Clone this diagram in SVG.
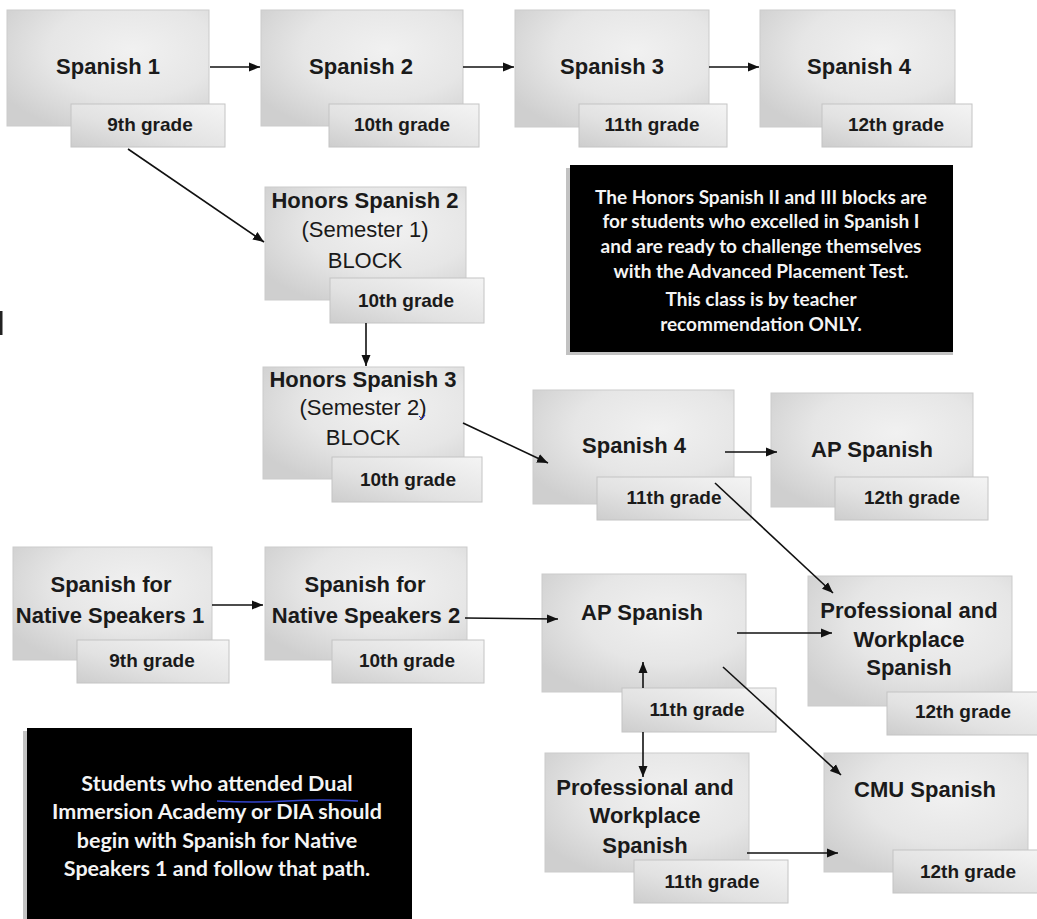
<svg xmlns="http://www.w3.org/2000/svg" width="1037" height="919" viewBox="0 0 1037 919">
<defs>
<radialGradient id="gBox" cx="0.62" cy="0.35" r="0.75">
<stop offset="0" stop-color="#f1f1f1"/>
<stop offset="0.55" stop-color="#e6e6e6"/>
<stop offset="1" stop-color="#cfcfcf"/>
</radialGradient>
<linearGradient id="gTag" x1="1" y1="0" x2="0" y2="1">
<stop offset="0" stop-color="#f4f4f4"/>
<stop offset="0.6" stop-color="#e2e2e2"/>
<stop offset="1" stop-color="#cdcdcd"/>
</linearGradient>
<marker id="arr" markerUnits="userSpaceOnUse" markerWidth="12" markerHeight="10" refX="11" refY="5" orient="auto">
<path d="M0,0.5 L11,5 L0,9.5 z" fill="#111"/>
</marker>
</defs>
<style>
.box{fill:url(#gBox);stroke:#cbcbcb;stroke-width:1}
.tag{fill:url(#gTag);stroke:#c4c4c4;stroke-width:1}
.t{font-family:"Liberation Sans",Arial,sans-serif;font-weight:bold;font-size:22px;fill:#1a1a1a;text-anchor:middle}
.r{font-family:"Liberation Sans",Arial,sans-serif;font-weight:normal;font-size:22px;fill:#1a1a1a;text-anchor:middle}
.g{font-family:"Liberation Sans",Arial,sans-serif;font-weight:bold;font-size:19px;fill:#1a1a1a;text-anchor:middle}
.note{font-family:Lato,"Open Sans",sans-serif;font-weight:bold;font-size:19px;fill:#f4f4f4;text-anchor:middle}
.note2{font-family:Lato,"Open Sans",sans-serif;font-weight:bold;font-size:21.5px;fill:#f4f4f4;text-anchor:middle}
.c{stroke:#111;stroke-width:1.6;fill:none}
</style>
<rect x="0" y="311" width="2.5" height="24" fill="#222"/>

<g id="n-spanish1">
<rect class="box" x="7" y="10" width="202" height="116"/>
<text class="t" x="108" y="74">Spanish 1</text>
<rect class="tag" x="71" y="104" width="154" height="43"/>
<text class="g" x="150" y="131">9th grade</text>
</g>
<g id="n-spanish2">
<rect class="box" x="261" y="10" width="202" height="116"/>
<text class="t" x="361" y="74">Spanish 2</text>
<rect class="tag" x="329" y="104" width="150" height="43"/>
<text class="g" x="402" y="131">10th grade</text>
</g>
<g id="n-spanish3">
<rect class="box" x="515" y="10" width="194" height="117"/>
<text class="t" x="612" y="74">Spanish 3</text>
<rect class="tag" x="579" y="104" width="148" height="43"/>
<text class="g" x="652" y="131">11th grade</text>
</g>
<g id="n-spanish4">
<rect class="box" x="760" y="10" width="195" height="117"/>
<text class="t" x="859" y="74">Spanish 4</text>
<rect class="tag" x="822" y="104" width="150" height="43"/>
<text class="g" x="896" y="131">12th grade</text>
</g>

<g id="n-honors2">
<rect class="box" x="265" y="187" width="201" height="113"/>
<text class="t" x="365" y="208">Honors Spanish 2</text>
<text class="r" x="365" y="237">(Semester 1)</text>
<text class="r" x="365" y="268">BLOCK</text>
<rect class="tag" x="330" y="278" width="154" height="45"/>
<text class="g" x="406" y="307">10th grade</text>
</g>
<g id="n-honors3">
<rect class="box" x="263" y="367" width="201" height="112"/>
<text class="t" x="363" y="387">Honors Spanish 3</text>
<text class="r" x="363" y="415">(Semester 2)</text>
<path d="M419,416 l3,3 l3,-4" stroke="#2233cc" stroke-width="1" fill="none"/>
<text class="r" x="363" y="445">BLOCK</text>
<rect class="tag" x="332" y="457" width="150" height="45"/>
<text class="g" x="408" y="486">10th grade</text>
</g>

<g id="note-honors">
<rect x="566" y="168" width="387" height="187" fill="#9a9a9a" opacity="0.6"/>
<rect x="570" y="165" width="383" height="187" fill="#000"/>
<text class="note" x="761" y="204">The Honors Spanish II and III blocks are</text>
<text class="note" x="761" y="228">for students who excelled in Spanish I</text>
<text class="note" x="761" y="253">and are ready to challenge themselves</text>
<text class="note" x="761" y="278">with the Advanced Placement Test.</text>
<text class="note" x="761" y="306">This class is by teacher</text>
<text class="note" x="761" y="331">recommendation ONLY.</text>
</g>

<g id="n-spanish4b">
<rect class="box" x="533" y="390" width="201" height="114"/>
<text class="t" x="634" y="453">Spanish 4</text>
<rect class="tag" x="597" y="477" width="154" height="43"/>
<text class="g" x="674" y="504">11th grade</text>
</g>
<g id="n-ap-a">
<rect class="box" x="771" y="393" width="202" height="114"/>
<text class="t" x="872" y="457">AP Spanish</text>
<rect class="tag" x="835" y="477" width="153" height="43"/>
<text class="g" x="912" y="504">12th grade</text>
</g>

<g id="n-sns1">
<rect class="box" x="13" y="547" width="199" height="113"/>
<text class="t" x="111" y="592">Spanish for</text>
<text class="t" x="110" y="623">Native Speakers 1</text>
<rect class="tag" x="77" y="640" width="152" height="43"/>
<text class="g" x="152" y="667">9th grade</text>
</g>
<g id="n-sns2">
<rect class="box" x="265" y="547" width="202" height="113"/>
<text class="t" x="365" y="592">Spanish for</text>
<text class="t" x="366" y="623">Native Speakers 2</text>
<rect class="tag" x="332" y="640" width="152" height="43"/>
<text class="g" x="407" y="667">10th grade</text>
</g>

<g id="n-ap-b">
<rect class="box" x="542" y="574" width="204" height="118"/>
<text class="t" x="642" y="620">AP Spanish</text>
<rect class="tag" x="622" y="688" width="154" height="44"/>
<text class="g" x="697" y="716">11th grade</text>
</g>
<g id="n-pws-a">
<rect class="box" x="808" y="576" width="204" height="130"/>
<text class="t" x="909" y="618">Professional and</text>
<text class="t" x="909" y="647">Workplace</text>
<text class="t" x="909" y="675">Spanish</text>
<rect class="tag" x="887" y="692" width="152" height="43"/>
<text class="g" x="963" y="718">12th grade</text>
</g>
<g id="n-pws-b">
<rect class="box" x="545" y="753" width="204" height="119"/>
<text class="t" x="645" y="795">Professional and</text>
<text class="t" x="645" y="823">Workplace</text>
<text class="t" x="645" y="853">Spanish</text>
<rect class="tag" x="634" y="860" width="154" height="43"/>
<text class="g" x="712" y="888">11th grade</text>
</g>
<g id="n-cmu">
<rect class="box" x="824" y="753" width="204" height="119"/>
<text class="t" x="925" y="797">CMU Spanish</text>
<rect class="tag" x="893" y="850" width="150" height="43"/>
<text class="g" x="968" y="878">12th grade</text>
</g>

<g id="note-dia">
<rect x="23" y="731" width="389" height="190" fill="#9a9a9a" opacity="0.6"/>
<rect x="27" y="728" width="385" height="191" fill="#000"/>
<text class="note2" x="217" y="791">Students who attended  Dual</text>
<path d="M217,801 q35,2 70,0 t71,0" stroke="#3344cc" stroke-width="1.3" fill="none"/>
<text class="note2" x="217" y="819">Immersion Academy or DIA should</text>
<text class="note2" x="217" y="848">begin with Spanish for Native</text>
<text class="note2" x="217" y="876">Speakers 1 and follow that path.</text>
</g>

<g id="connectors">
<line class="c" x1="210" y1="67" x2="260" y2="67" marker-end="url(#arr)"/>
<line class="c" x1="463" y1="67" x2="514" y2="67" marker-end="url(#arr)"/>
<line class="c" x1="709" y1="67" x2="759" y2="67" marker-end="url(#arr)"/>
<line class="c" x1="128" y1="149" x2="264" y2="242" marker-end="url(#arr)"/>
<line class="c" x1="366" y1="323" x2="366" y2="366" marker-end="url(#arr)"/>
<line class="c" x1="463" y1="423" x2="548" y2="463" marker-end="url(#arr)"/>
<line class="c" x1="725" y1="452" x2="777" y2="452" marker-end="url(#arr)"/>
<line class="c" x1="715" y1="483" x2="833" y2="593" marker-end="url(#arr)"/>
<line class="c" x1="212" y1="605" x2="263" y2="605" marker-end="url(#arr)"/>
<line class="c" x1="465" y1="618" x2="558" y2="619" marker-end="url(#arr)"/>
<line class="c" x1="737" y1="633" x2="832" y2="633" marker-end="url(#arr)"/>
<line class="c" x1="643" y1="688" x2="643" y2="662" marker-end="url(#arr)"/>
<line class="c" x1="643" y1="732" x2="643" y2="777" marker-end="url(#arr)"/>
<line class="c" x1="723" y1="667" x2="841" y2="775" marker-end="url(#arr)"/>
<line class="c" x1="747" y1="853" x2="838" y2="853" marker-end="url(#arr)"/>
</g>
</svg>
